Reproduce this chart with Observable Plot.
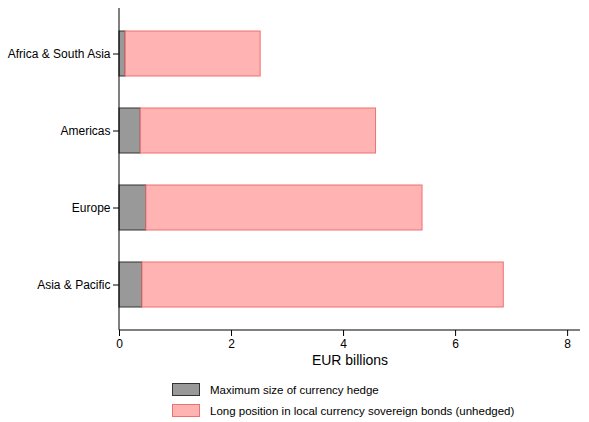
<!DOCTYPE html>
<html><head><meta charset="utf-8">
<script src="https://cdn.jsdelivr.net/npm/d3@7"></script>
<script src="https://cdn.jsdelivr.net/npm/@observablehq/plot@0.6"></script>
<style>
body{margin:0;background:#fff;font-family:Arial,"Liberation Sans",sans-serif;}
#legend{position:absolute;left:172px;top:379px;font-size:11.5px;color:#000}
.row{display:flex;align-items:center;height:21px}
.sw{width:28px;height:13px;margin-right:10px;box-sizing:border-box}
</style></head><body>
<div id="chart"></div>
<div id="legend">
<div class="row"><div class="sw" style="background:#999;border:1px solid #333"></div>Maximum size of currency hedge</div>
<div class="row"><div class="sw" style="background:#ffb3b3;border:1px solid #f07070"></div>Long position in local currency sovereign bonds (unhedged)</div>
</div>
<script>
const regions = ["Africa & South Asia","Americas","Europe","Asia & Pacific"];
const hedge = [0.11, 0.38, 0.48, 0.41];
const total = [2.52, 4.58, 5.41, 6.86];
const data = regions.flatMap((r,i)=>[
  {region:r, series:"hedge", v:hedge[i]},
  {region:r, series:"long", v:total[i]-hedge[i]}
]);
const plot = Plot.plot({
  width:589, height:372, marginLeft:119, marginRight:9, marginTop:8, marginBottom:42,
  style:{fontFamily:"Arial, Liberation Sans, sans-serif", fontSize:"12px", color:"#000"},
  x:{domain:[0,8.23], ticks:[0,2,4,6,8], tickFormat:d=>d, label:"EUR billions", labelAnchor:"center", labelArrow:"none", tickSize:5},
  y:{domain:regions, range:[8,330], paddingInner:0.42, paddingOuter:0.29, label:null, tickSize:5},
  marks:[
    Plot.ruleX([2,4,6,8],{stroke:"#e4e4e4", y1:8, y2:330}),
    Plot.barX(data, Plot.stackX({y:"region", x:"v", order:["hedge","long"],
      fill:d=>d.series==="hedge"?"#999999":"#ffb3b3",
      stroke:d=>d.series==="hedge"?"#333333":"#f07070", strokeWidth:1})),
    Plot.axisX({ticks:[0,2,4,6,8], tickFormat:d=>d, label:"EUR billions", labelAnchor:"center", labelArrow:"none", labelOffset:34, fontSize:12}),
    Plot.axisY({label:null, fontSize:12})
  ]
});
plot.querySelectorAll('[aria-label="x-axis label"] text').forEach(t=>t.style.fontSize="14px");
document.getElementById("chart").appendChild(plot);
const svg=d3.select(plot);
svg.append("line").attr("x1",119).attr("x2",580).attr("y1",330).attr("y2",330).attr("stroke","#000");
svg.append("line").attr("x1",119).attr("x2",119).attr("y1",8).attr("y2",330).attr("stroke","#000");
</script></body></html>
